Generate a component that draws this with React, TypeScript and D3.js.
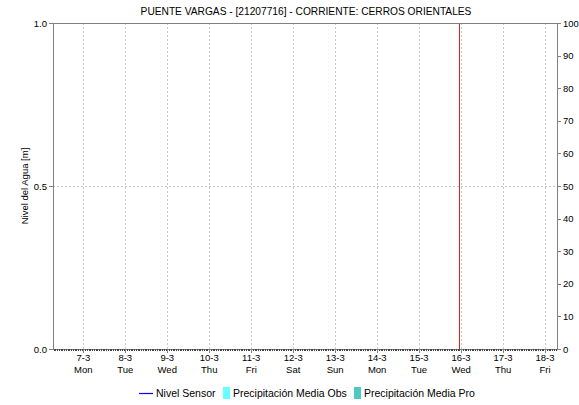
import React from "react";
import * as d3 from "d3";

const title = "PUENTE VARGAS - [21207716] - CORRIENTE: CERROS ORIENTALES";
const yLabel = "Nivel del Agua [m]";
const domainStart = new Date(2022, 2, 6, 6, 40);
const domainEnd = new Date(2022, 2, 18, 6, 50);
const nowMarker = new Date(2022, 2, 15, 23, 0);
const dayTicks = [7, 8, 9, 10, 11, 12, 13, 14, 15, 16, 17, 18].map((d) => new Date(2022, 2, d));
const dayNames = ["Mon", "Tue", "Wed", "Thu", "Fri", "Sat", "Sun", "Mon", "Tue", "Wed", "Thu", "Fri"];
const leftTicks = [0, 0.5, 1.0];
const rightTicks = [0, 10, 20, 30, 40, 50, 60, 70, 80, 90, 100];
const nivelSensor: { t: Date; v: number }[] = [];
const legendItems = [
  { label: "Nivel Sensor", kind: "line", color: "#0000ff" },
  { label: "Precipitación Media Obs", kind: "rect", color: "#66ffff" },
  { label: "Precipitación Media Pro", kind: "rect", color: "#4cc9c3" },
];

const W = 579;
const H = 405;
const L = 53, R = 557, T = 23, B = 349;
const font = "'Liberation Sans', Arial, sans-serif";

export default function App() {
  const x = d3.scaleTime().domain([domainStart, domainEnd]).range([L, R]);
  const y = d3.scaleLinear().domain([0, 1]).range([B, T]);
  const y2 = d3.scaleLinear().domain([0, 100]).range([B, T]);
  const hours = d3.timeHour.every(1)!.range(domainStart, domainEnd);
  const line = d3.line<{ t: Date; v: number }>().x((d) => x(d.t)).y((d) => y(d.v));
  const axisColor = "#808080";
  const legendX = [139, 223, 354];
  const px = (v: number) => Math.round(v) + 0.5;

  return (
    <svg width={W} height={H} style={{ position: "absolute", left: 0, top: 0, background: "#fff" }} fontFamily={font}>
      <rect x={0} y={0} width={W} height={H} fill="#fff" />
      <text x={(L + R) / 2 + 1} y={15} textAnchor="middle" fontSize={10.2} fill="#000">{title}</text>
      {/* grid */}
      {dayTicks.map((d, i) => (
        <line key={"g" + i} x1={px(x(d))} x2={px(x(d))} y1={T} y2={B} stroke="#c8c8c8" strokeDasharray="2,2" />
      ))}
      <line x1={L} x2={R} y1={px(y(0.5))} y2={px(y(0.5))} stroke="#c8c8c8" strokeDasharray="2,2" />
      {/* series */}
      {nivelSensor.length > 0 && <path d={line(nivelSensor) || ""} fill="none" stroke="#0000ff" />}
      {/* now marker */}
      <line x1={px(x(nowMarker))} x2={px(x(nowMarker))} y1={T} y2={B} stroke="#e02020" strokeWidth={1} />
      {/* axes frame */}
      <line x1={px(L)} x2={px(L)} y1={T} y2={B} stroke={axisColor} />
      <line x1={px(R)} x2={px(R)} y1={T} y2={B} stroke={axisColor} />
      <line x1={L} x2={R} y1={px(T)} y2={px(T)} stroke={axisColor} />
      <line x1={L} x2={R + 1} y1={px(B)} y2={px(B)} stroke={axisColor} />
      {/* hourly minor ticks */}
      {hours.map((h, i) => (
        <line key={"h" + i} x1={px(x(h))} x2={px(x(h))} y1={B} y2={B + 2} stroke="#444" />
      ))}
      {/* day ticks */}
      {dayTicks.map((d, i) => (
        <g key={"d" + i}>
          <line x1={px(x(d))} x2={px(x(d))} y1={B} y2={B + 4} stroke={axisColor} />
          <text x={x(d)} y={361} textAnchor="middle" fontSize={9.5} fill="#000">{`${d.getDate()}-${d.getMonth() + 1}`}</text>
          <text x={x(d)} y={373} textAnchor="middle" fontSize={9.5} fill="#000">{dayNames[i]}</text>
        </g>
      ))}
      {/* left ticks */}
      {leftTicks.map((v, i) => (
        <g key={"l" + i}>
          <line x1={L - 4} x2={L} y1={px(y(v))} y2={px(y(v))} stroke={axisColor} />
          <text x={L - 6} y={y(v) + 3.5} textAnchor="end" fontSize={9.5} fill="#000">{v.toFixed(1)}</text>
        </g>
      ))}
      {/* right ticks */}
      {rightTicks.map((v, i) => (
        <g key={"r" + i}>
          <line x1={R} x2={R + 4} y1={px(y2(v))} y2={px(y2(v))} stroke={axisColor} />
          <text x={R + 6} y={y2(v) + 3.5} textAnchor="start" fontSize={9.5} fill="#000">{v}</text>
        </g>
      ))}
      <text transform={`translate(28,${(T + B) / 2}) rotate(-90)`} textAnchor="middle" fontSize={9.5} fill="#000">{yLabel}</text>
      {/* legend */}
      {legendItems.map((it, i) => (
        <g key={"lg" + i}>
          {it.kind === "line" ? (
            <line x1={legendX[i]} x2={legendX[i] + 14} y1={393.5} y2={393.5} stroke={it.color} strokeWidth={1.2} />
          ) : (
            <rect x={legendX[i]} y={387} width={7} height={12} fill={it.color} />
          )}
          <text x={legendX[i] + (it.kind === "line" ? 17 : 10)} y={397} fontSize={10.5} fill="#000">{it.label}</text>
        </g>
      ))}
    </svg>
  );
}
